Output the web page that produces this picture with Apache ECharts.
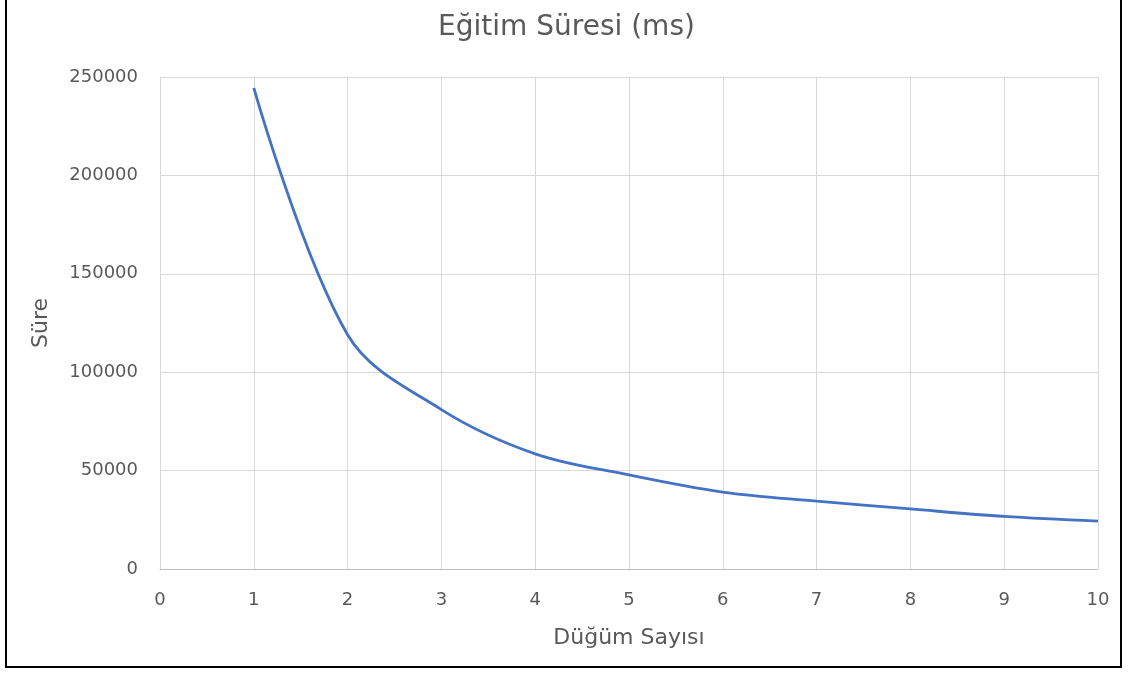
<!DOCTYPE html>
<html>
<head>
<meta charset="utf-8">
<script src="https://cdn.jsdelivr.net/npm/echarts@6/dist/echarts.min.js"></script>
<style>
html,body{margin:0;padding:0;background:#fff;}
#frame{position:absolute;left:5px;top:-2px;width:1117px;height:670px;border:2px solid #000;box-sizing:border-box;}
#chart{position:absolute;left:0;top:0;width:1133px;height:674px;}
</style>
</head>
<body>
<div id="frame"></div>
<div id="chart"></div>
<script>
const nodeCounts = [1, 2, 3, 4, 5, 6, 7, 8, 9, 10];
const durations = [244500, 119000, 81000, 58500, 47800, 39100, 34500, 30500, 26700, 24300];
const titleText = "Eğitim Süresi (ms)";
const xName = "Düğüm Sayısı";
const yName = "Süre";

const chart = echarts.init(document.getElementById('chart'));
const font = '"DejaVu Sans", sans-serif';
chart.setOption({
  backgroundColor: 'transparent',
  animation: false,
  title: {
    text: titleText, left: 'center', top: 9,
    textStyle: {fontFamily: font, fontSize: 28, fontWeight: 'normal', color: '#595959'}
  },
  grid: {left: 160, right: 35, top: 77, bottom: 105},
  xAxis: {
    type: 'value', min: 0, max: 10, interval: 1,
    name: xName, nameLocation: 'middle', nameGap: 58,
    nameTextStyle: {fontFamily: font, fontSize: 22, color: '#595959'},
    axisLine: {show: true, lineStyle: {color: '#bfbfbf', width: 1}},
    axisTick: {show: false},
    axisLabel: {fontFamily: font, fontSize: 18, color: '#595959', margin: 22},
    splitLine: {show: true, lineStyle: {color: '#d9d9d9', width: 1}}
  },
  yAxis: {
    type: 'value', min: 0, max: 250000, interval: 50000,
    name: yName, nameLocation: 'middle', nameGap: 108, nameRotate: 90,
    nameTextStyle: {fontFamily: font, fontSize: 22, color: '#595959'},
    axisLine: {show: false},
    axisTick: {show: false},
    axisLabel: {fontFamily: font, fontSize: 18, color: '#595959', margin: 22,
      formatter: v => String(v)},
    splitLine: {show: true, lineStyle: {color: '#d9d9d9', width: 1}}
  },
  series: [{
    type: 'line',
    data: nodeCounts.map((x, i) => [x, durations[i]]),
    smooth: 0.35,
    showSymbol: false,
    lineStyle: {color: '#4472C4', width: 2.8}
  }]
});
</script>
</body>
</html>
